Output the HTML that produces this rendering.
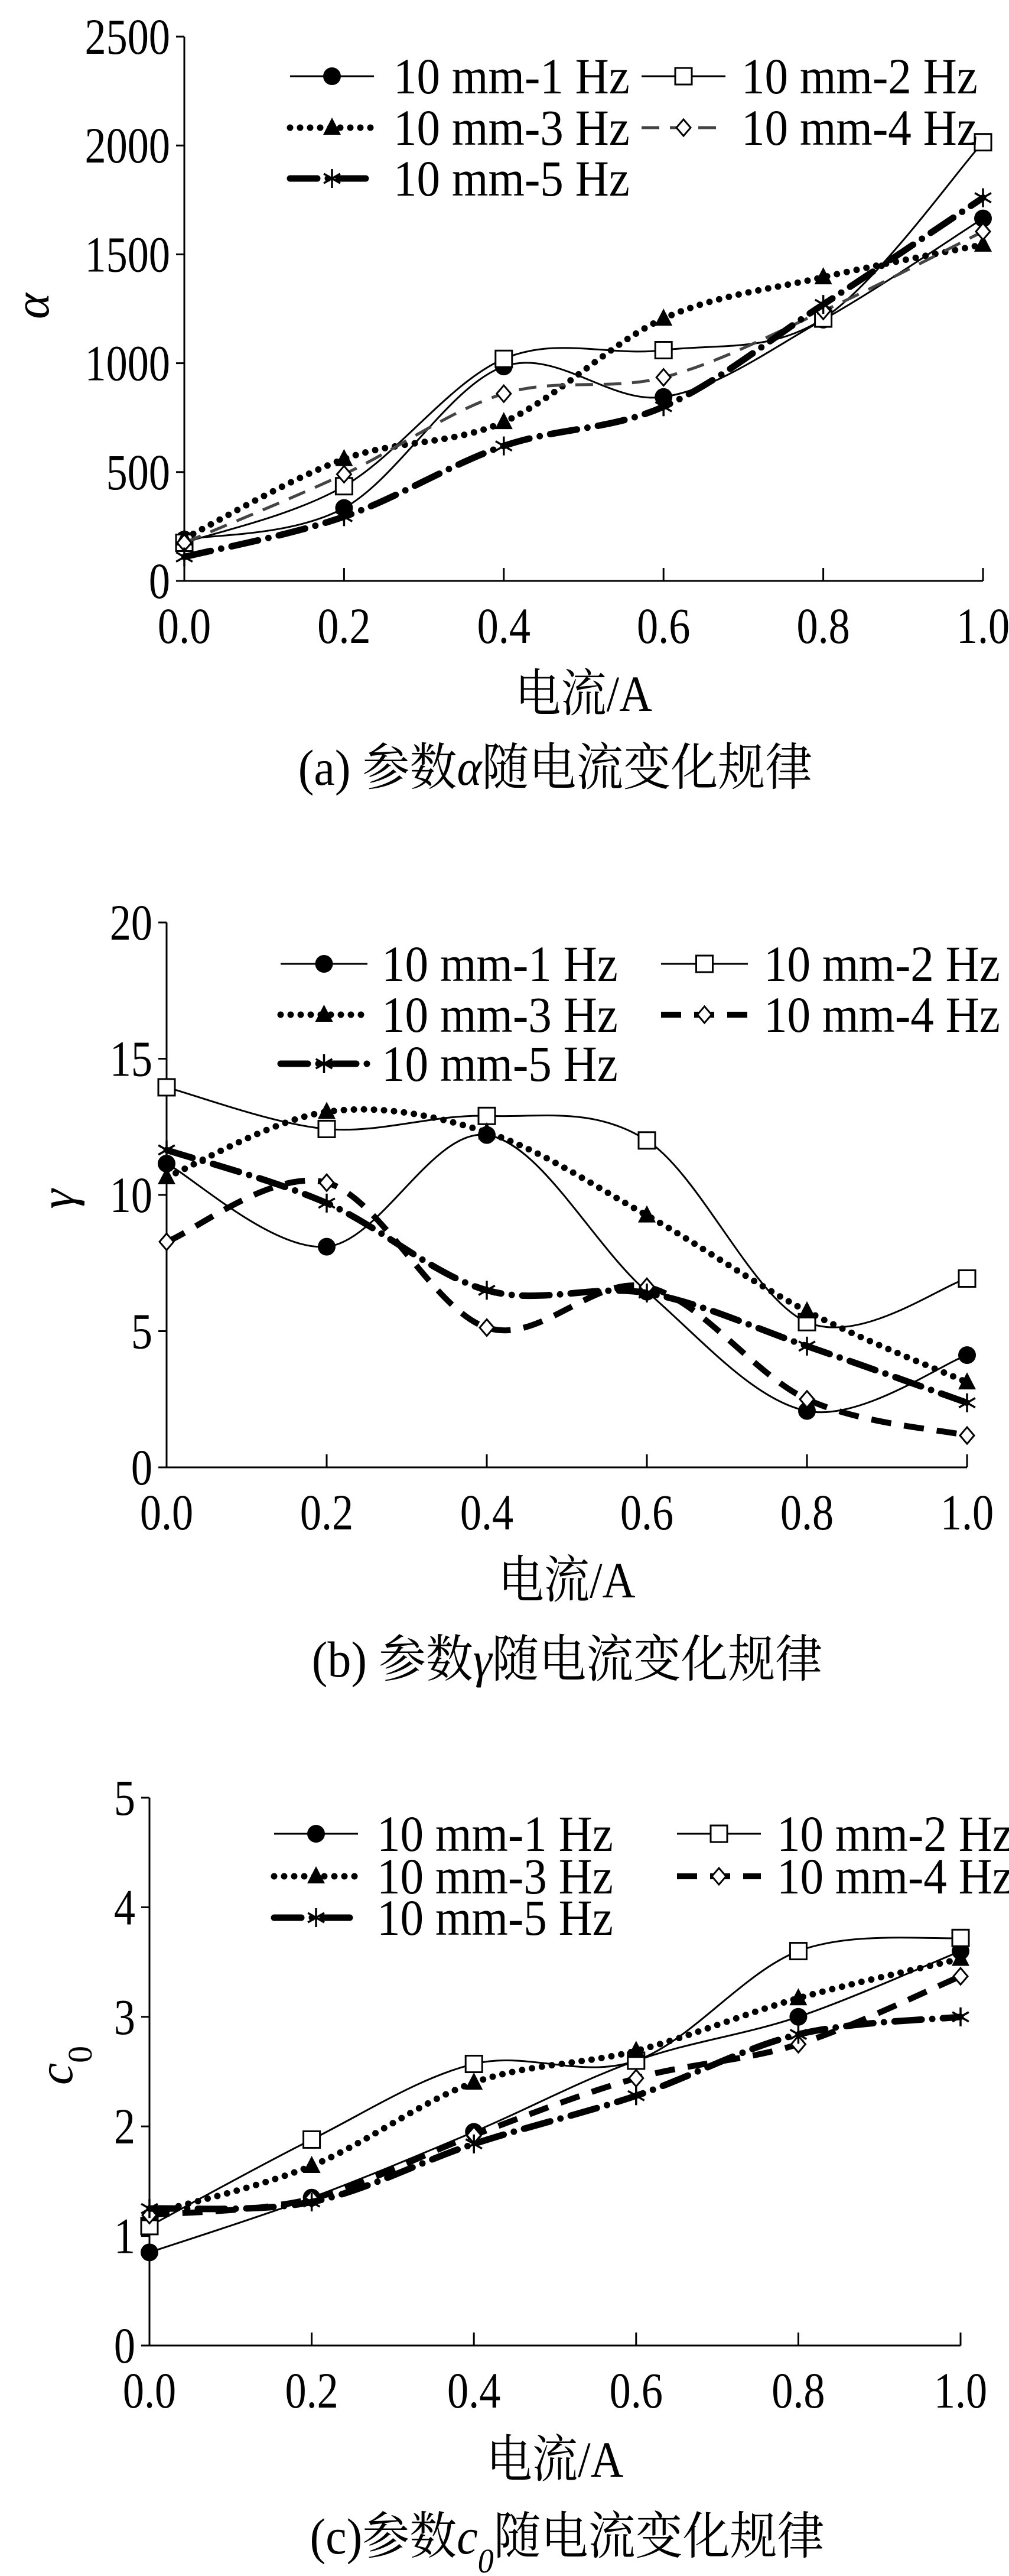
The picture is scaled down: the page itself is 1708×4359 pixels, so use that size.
<!DOCTYPE html>
<html><head><meta charset="utf-8">
<style>
html,body{margin:0;padding:0;background:#fff;}
svg{display:block;}
text{font-family:"Liberation Serif","Noto Serif CJK SC","Noto Sans CJK SC",serif;fill:#000;}
</style></head>
<body>
<svg id="fig" width="1708" height="4359" viewBox="0 0 1708 4359" xmlns="http://www.w3.org/2000/svg"></svg>
<script>
const xCats = [0, 0.2, 0.4, 0.6, 0.8, 1.0];
const xTickLabels = ["0.0","0.2","0.4","0.6","0.8","1.0"];
const seriesNames = ["10 mm-1 Hz","10 mm-2 Hz","10 mm-3 Hz","10 mm-4 Hz","10 mm-5 Hz"];

const alpha1 = [190, 335, 985, 845, 1200, 1665];
const alpha2 = [175, 435, 1020, 1060, 1205, 2015];
const alpha3 = [195, 560, 730, 1205, 1395, 1545];
const alpha4 = [175, 490, 860, 935, 1240, 1605];
const alpha5 = [110, 295, 620, 800, 1270, 1760];
const alphaTicks = [0, 500, 1000, 1500, 2000, 2500];

const gamma1 = [11.15, 8.1, 12.2, 6.45, 2.07, 4.12];
const gamma2 = [13.95, 12.42, 12.9, 12.0, 5.33, 6.93];
const gamma3 = [10.65, 13.05, 12.3, 9.25, 5.73, 3.12];
const gamma4 = [8.28, 10.45, 5.13, 6.63, 2.5, 1.17];
const gamma5 = [11.65, 9.7, 6.5, 6.4, 4.45, 2.37];
const gammaTicks = [0, 5, 10, 15, 20];

const c01 = [0.85, 1.35, 1.95, 2.6, 3.0, 3.6];
const c02 = [1.09, 1.88, 2.57, 2.6, 3.6, 3.72];
const c03 = [1.2, 1.64, 2.4, 2.69, 3.17, 3.53];
const c04 = [1.19, 1.34, 1.92, 2.44, 2.75, 3.37];
const c05 = [1.25, 1.31, 1.84, 2.28, 2.84, 3.0];
const c0Ticks = [0, 1, 2, 3, 4, 5];

const NS = "http://www.w3.org/2000/svg";
const svg = document.getElementById("fig");
function el(tag, attrs, parent){
  const e = document.createElementNS(NS, tag);
  for (const k in attrs) e.setAttribute(k, attrs[k]);
  (parent||svg).appendChild(e);
  return e;
}
function txt(x, y, size, sx, anchor, html, parent){
  const t = el("text",{x:0,y:0,"font-size":size,"text-anchor":anchor,transform:`translate(${x} ${y}) scale(${sx} 1)`},parent);
  t.innerHTML = html;
  return t;
}
function styleFor(i, panelKey){
  if (i===0||i===1) return {stroke:"#000","stroke-width":3,fill:"none"};
  if (i===2) return {stroke:"#000","stroke-width":11,fill:"none","stroke-dasharray":"0 17","stroke-linecap":"round"};
  if (i===3) return panelKey==="a" ? {stroke:"#444","stroke-width":5,fill:"none","stroke-dasharray":"30 18"}
                                     : {stroke:"#000","stroke-width":10,fill:"none","stroke-dasharray":"34 22"};
  return {stroke:"#000","stroke-width":11,fill:"none","stroke-dasharray":"46 18 0 18","stroke-linecap":"round"};
}
function marker(i, x, y, g){
  let m;
  if (i===0) m = el("circle",{cx:x,cy:y,r:15,fill:"#000"},g);
  else if (i===1) m = el("rect",{x:x-14,y:y-14,width:28,height:28,fill:"#fff",stroke:"#000","stroke-width":3},g);
  else if (i===2) m = el("polygon",{points:`${x},${y-17} ${x-15},${y+12} ${x+15},${y+12}`,fill:"#000"},g);
  else if (i===3) m = el("polygon",{points:`${x},${y-14} ${x+12},${y} ${x},${y+14} ${x-12},${y}`,fill:"#fff",stroke:"#000","stroke-width":3},g);
  else {
    m = el("g",{},g);
    for (const a of [0,60,120]) {
      const r = a*Math.PI/180, dx = Math.sin(r)*16, dy = Math.cos(r)*16;
      el("line",{x1:x-dx,y1:y-dy,x2:x+dx,y2:y+dy,stroke:"#000","stroke-width":3.5},m);
    }
  }
  return m;
}
function smoothPath(pts){
  let d = `M${pts[0][0]},${pts[0][1]}`;
  for (let i=0;i<pts.length-1;i++){
    const p0 = pts[i-1]||pts[i], p1 = pts[i], p2 = pts[i+1], p3 = pts[i+2]||pts[i+1];
    const c1 = [p1[0]+(p2[0]-p0[0])/6, p1[1]+(p2[1]-p0[1])/6];
    const c2 = [p2[0]-(p3[0]-p1[0])/6, p2[1]-(p3[1]-p1[1])/6];
    d += ` C${c1[0]},${c1[1]} ${c2[0]},${c2[1]} ${p2[0]},${p2[1]}`;
  }
  return d;
}
function drawPanel(cfg){
  const g = el("g",{});
  
  
  const xs = v => cfg.x0 + (v - xCats[0])/(xCats[xCats.length-1]-xCats[0])*(cfg.x1-cfg.x0);
  const ys = v => cfg.y0 - (v - cfg.ticks[0])/(cfg.ticks[cfg.ticks.length-1]-cfg.ticks[0])*(cfg.y0-cfg.yTop);
  const ya = el("line",{x1:cfg.x0,y1:cfg.yTop,x2:cfg.x0,y2:cfg.y0,stroke:"#000","stroke-width":3},g);
  
  
  const xa = el("line",{x1:cfg.x0,y1:cfg.y0,x2:cfg.x1,y2:cfg.y0,stroke:"#000","stroke-width":3},g);
  
  
  cfg.ticks.forEach(t=>{
    const y = ys(t);
    el("line",{x1:cfg.x0-14,y1:y,x2:cfg.x0,y2:y,stroke:"#000","stroke-width":3},g);
    const tx = txt(cfg.x0-24, y+29, 86, 0.84, "end", String(t), g);
    
    
  });
  xCats.forEach((c,i)=>{
    const x = xs(c);
    el("line",{x1:x,y1:cfg.y0,x2:x,y2:cfg.y0-22,stroke:"#000","stroke-width":3},g);
    const tx = txt(x, cfg.y0+105, 86, 0.84, "middle", xTickLabels[i], g);
    
    
  });
  const xt = txt((cfg.x0+cfg.x1)/2, cfg.xTitleY, 86, 0.9, "middle", "电流/A", g);
  
  
  const yt = el("text",{x:cfg.yLabX,y:cfg.yLabY,"font-size":84,"font-style":"italic","text-anchor":"middle",transform:`rotate(-90 ${cfg.yLabX} ${cfg.yLabY})`},g);
  yt.innerHTML = cfg.yLabel;
  
  
  const cap = txt(cfg.capX, cfg.capY, 86, 0.93, "middle", cfg.caption, g);
  
  
  cfg.series.forEach((vals,i)=>{
    const sg = el("g",{},g);
    
    
    const pts = vals.map((v,j)=>[xs(xCats[j]), ys(v)]);
    el("path", Object.assign({d:smoothPath(pts)}, styleFor(i,cfg.key)), sg);
    pts.forEach(p=>{
      const m = marker(i,p[0],p[1],sg);
      
      
    });
  });
  const lg = el("g",{},g);
  
  
  seriesNames.forEach((n,i)=>{
    const col = i%2, row = Math.floor(i/2);
    const L = cfg.leg[col], y = cfg.legRows[row];
    const eg = el("g",{},lg);
    
    
    el("path", Object.assign({d:`M${L[0]},${y} L${L[1]},${y}`}, styleFor(i,cfg.key)), eg);
    marker(i,(L[0]+L[1])/2,y,eg);
    txt(L[2], y+29, 86, 0.92, "start", n, eg);
  });
}
drawPanel({key:"a", x0:312, x1:1664, yTop:62, y0:983, ticks:alphaTicks,
  series:[alpha1,alpha2,alpha3,alpha4,alpha5],
  xTitleY:1203, yLabX:82, yLabY:518, yLabel:"α",
  capX:940, capY:1328, caption:"(a) 参数<tspan font-style=\"italic\">α</tspan>随电流变化规律",
  leg:[[491,633,666],[1086,1228,1255]], legRows:[129,216,302]});
drawPanel({key:"b", x0:282, x1:1637, yTop:1561, y0:2483, ticks:gammaTicks,
  series:[gamma1,gamma2,gamma3,gamma4,gamma5],
  xTitleY:2703, yLabX:125, yLabY:2029, yLabel:"γ",
  capX:960, capY:2837, caption:"(b) 参数<tspan font-style=\"italic\">γ</tspan>随电流变化规律",
  leg:[[475,622,646],[1119,1266,1293]], legRows:[1631,1717,1800]});
drawPanel({key:"c", x0:253, x1:1626, yTop:3042, y0:3969, ticks:c0Ticks,
  series:[c01,c02,c03,c04,c05],
  xTitleY:4191, yLabX:122, yLabY:3495, yLabel:"c<tspan baseline-shift=\"sub\" font-size=\"58\" font-style=\"normal\">0</tspan>",
  capX:960, capY:4321, caption:"(c)参数<tspan font-style=\"italic\">c</tspan><tspan font-style=\"italic\" font-size=\"58\" baseline-shift=\"sub\">0</tspan>随电流变化规律",
  leg:[[464,606,638],[1146,1288,1315]], legRows:[3103,3175,3245]});
</script>
</body></html>
